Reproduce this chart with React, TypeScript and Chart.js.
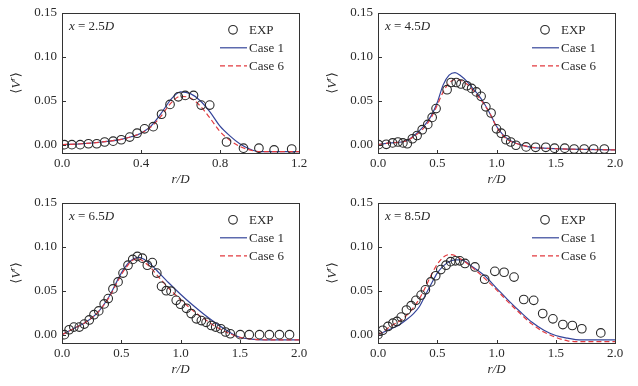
import React, { useEffect, useRef } from "react";
import { Chart, registerables } from "chart.js";

Chart.register(...registerables);

const FONT = '"Liberation Serif", "DejaVu Serif", serif';
const BLUE = "#34449a";
const RED = "#e23a3f";
const INK = "#2a2a2a";

// ---- x = 2.5D ----
const r25Exp = [0.012, 0.05, 0.092, 0.134, 0.176, 0.216, 0.259, 0.3, 0.343, 0.38, 0.418, 0.462, 0.504, 0.547, 0.589, 0.624, 0.666, 0.705, 0.748, 0.833, 0.919, 0.997, 1.074, 1.163];
const v25Exp = [0, 0, 0, 0.001, 0.001, 0.003, 0.004, 0.0056, 0.0086, 0.013, 0.018, 0.0205, 0.0346, 0.0458, 0.0544, 0.056, 0.056, 0.045, 0.045, 0.003, -0.004, -0.004, -0.006, -0.005];
const r25Line = [0, 0.1, 0.2, 0.3, 0.35, 0.4, 0.45, 0.5, 0.55, 0.6, 0.65, 0.7, 0.75, 0.8, 0.85, 0.9, 0.95, 1.0, 1.1, 1.2];
const v25Case1 = [0, 0.001, 0.003, 0.006, 0.009, 0.013, 0.021, 0.035, 0.051, 0.06, 0.058, 0.05, 0.037, 0.021, 0.01, 0.001, -0.005, -0.008, -0.008, -0.008];
const v25Case6 = [0, 0.001, 0.003, 0.006, 0.009, 0.013, 0.02, 0.032, 0.047, 0.055, 0.053, 0.044, 0.03, 0.015, 0.005, -0.002, -0.006, -0.008, -0.008, -0.008];

// ---- x = 4.5D ----
const r45Exp = [0.005, 0.07, 0.123, 0.168, 0.21, 0.247, 0.29, 0.33, 0.373, 0.42, 0.457, 0.49, 0.583, 0.617, 0.66, 0.7, 0.75, 0.79, 0.83, 0.87, 0.91, 0.954, 1.0, 1.04, 1.08, 1.12, 1.164, 1.25, 1.33, 1.416, 1.49, 1.576, 1.655, 1.74, 1.82, 1.91];
const v45Exp = [0, 0.0004, 0.002, 0.003, 0.002, 0.001, 0.0067, 0.0104, 0.017, 0.023, 0.031, 0.041, 0.0625, 0.0707, 0.0707, 0.069, 0.067, 0.064, 0.06, 0.055, 0.043, 0.036, 0.018, 0.013, 0.0056, 0.003, -0.0007, -0.0026, -0.003, -0.003, -0.004, -0.004, -0.005, -0.005, -0.005, -0.005];
const r45Line = [0, 0.1, 0.2, 0.25, 0.3, 0.35, 0.4, 0.45, 0.5, 0.55, 0.6, 0.65, 0.7, 0.75, 0.8, 0.85, 0.9, 0.95, 1.0, 1.05, 1.1, 1.2, 1.3, 1.4, 1.6, 2.0];
const v45Case1 = [0, 0.002, 0.003, 0.005, 0.01, 0.016, 0.023, 0.033, 0.048, 0.068, 0.079, 0.082, 0.078, 0.072, 0.064, 0.056, 0.046, 0.034, 0.021, 0.012, 0.006, 0, -0.003, -0.004, -0.005, -0.006];
const v45Case6 = [0, 0.002, 0.003, 0.005, 0.009, 0.014, 0.021, 0.031, 0.045, 0.06, 0.07, 0.074, 0.073, 0.069, 0.062, 0.054, 0.045, 0.034, 0.02, 0.011, 0.005, 0, -0.003, -0.004, -0.005, -0.006];

// ---- x = 6.5D ----
const r65Exp = [0.02, 0.06, 0.1, 0.146, 0.188, 0.23, 0.27, 0.31, 0.356, 0.39, 0.43, 0.473, 0.515, 0.557, 0.597, 0.636, 0.678, 0.72, 0.762, 0.8, 0.84, 0.88, 0.92, 0.964, 1.0, 1.05, 1.09, 1.134, 1.176, 1.216, 1.26, 1.297, 1.34, 1.38, 1.42, 1.504, 1.58, 1.667, 1.75, 1.835, 1.92];
const v65Exp = [0, 0.0056, 0.0086, 0.0086, 0.012, 0.0167, 0.0227, 0.027, 0.035, 0.041, 0.052, 0.06, 0.07, 0.079, 0.0856, 0.089, 0.087, 0.079, 0.082, 0.07, 0.055, 0.05, 0.0495, 0.039, 0.0346, 0.03, 0.024, 0.018, 0.016, 0.014, 0.0104, 0.0086, 0.0067, 0.003, 0.001, 0, 0, 0, 0, 0, 0];
const r65Line = [0, 0.1, 0.2, 0.3, 0.4, 0.5, 0.55, 0.6, 0.65, 0.7, 0.75, 0.8, 0.9, 1.0, 1.1, 1.2, 1.3, 1.4, 1.5, 1.6, 1.8, 2.0];
const v65Case1 = [0, 0.007, 0.014, 0.025, 0.044, 0.07, 0.08, 0.086, 0.088, 0.085, 0.08, 0.073, 0.059, 0.046, 0.034, 0.023, 0.013, 0.004, -0.003, -0.005, -0.006, -0.006];
const v65Case6 = [0, 0.007, 0.014, 0.025, 0.043, 0.068, 0.078, 0.085, 0.086, 0.082, 0.076, 0.068, 0.053, 0.04, 0.028, 0.018, 0.009, 0.002, -0.003, -0.005, -0.006, -0.006];

// ---- x = 8.5D ----
const r85Exp = [0, 0.04, 0.084, 0.126, 0.16, 0.196, 0.24, 0.28, 0.32, 0.364, 0.4, 0.445, 0.487, 0.53, 0.574, 0.613, 0.653, 0.69, 0.734, 0.818, 0.9, 0.986, 1.064, 1.148, 1.23, 1.314, 1.39, 1.476, 1.56, 1.64, 1.72, 1.88];
const v85Exp = [0, 0.005, 0.0093, 0.013, 0.015, 0.02, 0.028, 0.033, 0.039, 0.045, 0.051, 0.06, 0.067, 0.074, 0.079, 0.083, 0.084, 0.084, 0.081, 0.077, 0.063, 0.072, 0.071, 0.0655, 0.04, 0.039, 0.024, 0.018, 0.0115, 0.0104, 0.0067, 0.002];
const r85Line = [0, 0.05, 0.1, 0.15, 0.2, 0.25, 0.3, 0.35, 0.4, 0.45, 0.5, 0.55, 0.6, 0.65, 0.7, 0.8, 0.9, 1.0, 1.1, 1.2, 1.3, 1.4, 1.5, 1.6, 1.7, 2.0];
const v85Case1 = [0, 0.003, 0.006, 0.009, 0.013, 0.018, 0.024, 0.032, 0.045, 0.058, 0.07, 0.078, 0.083, 0.085, 0.085, 0.077, 0.067, 0.053, 0.039, 0.026, 0.014, 0.005, -0.001, -0.004, -0.006, -0.006];
const v85Case6 = [0, 0.004, 0.009, 0.013, 0.017, 0.023, 0.031, 0.041, 0.054, 0.068, 0.08, 0.088, 0.091, 0.09, 0.086, 0.076, 0.064, 0.051, 0.037, 0.024, 0.012, 0.003, -0.003, -0.007, -0.008, -0.008];

const yTickValues = [0, 0.05, 0.1, 0.15];
const xTicksShort = [0, 0.4, 0.8, 1.2];
const xTicksLong = [0, 0.5, 1.0, 1.5, 2.0];
const panelLabels = ["2.5", "4.5", "6.5", "8.5"];
const legendLabels = ["EXP", "Case 1", "Case 6"];

type PanelCfg = {
  left: number; top: number; w: number; h: number;
  yW: number; padTop: number; padRight: number; xH: number;
  xMax: number; xTicks: number[];
  rExp: number[]; vExp: number[]; rLine: number[]; c1: number[]; c6: number[];
  label: string; legDx: number;
};

const panels: PanelCfg[] = [
  { left: 0, top: 0, w: 318, h: 190, yW: 62, padTop: 11, padRight: 19, xH: 37, xMax: 1.2, xTicks: xTicksShort, rExp: r25Exp, vExp: v25Exp, rLine: r25Line, c1: v25Case1, c6: v25Case6, label: panelLabels[0], legDx: 0 },
  { left: 318, top: 0, w: 320, h: 190, yW: 60, padTop: 11, padRight: 23, xH: 37, xMax: 2, xTicks: xTicksLong, rExp: r45Exp, vExp: v45Exp, rLine: r45Line, c1: v45Case1, c6: v45Case6, label: panelLabels[1], legDx: -4 },
  { left: 0, top: 190, w: 318, h: 196, yW: 62, padTop: 11, padRight: 19, xH: 43, xMax: 2, xTicks: xTicksLong, rExp: r65Exp, vExp: v65Exp, rLine: r65Line, c1: v65Case1, c6: v65Case6, label: panelLabels[2], legDx: 0 },
  { left: 318, top: 190, w: 320, h: 196, yW: 60, padTop: 11, padRight: 23, xH: 43, xMax: 2, xTicks: xTicksLong, rExp: r85Exp, vExp: v85Exp, rLine: r85Line, c1: v85Case1, c6: v85Case6, label: panelLabels[3], legDx: -4 },
];

const zip = (xs: number[], ys: number[]) => xs.map((x, i) => ({ x, y: ys[i] }));

function Panel({ cfg }: { cfg: PanelCfg }) {
  const ref = useRef<HTMLCanvasElement>(null);
  useEffect(() => {
    const deco = {
      id: "deco",
      afterDraw(chart: any) {
        const { ctx, chartArea } = chart;
        const { left, right, top, bottom } = chartArea;
        const xs = chart.scales.x;
        const ys = chart.scales.y;
        ctx.save();
        // frame
        ctx.strokeStyle = "#333";
        ctx.lineWidth = 1;
        ctx.strokeRect(Math.round(left) + 0.5, Math.round(top) + 0.5, Math.round(right - left), Math.round(bottom - top));
        // inner ticks
        ctx.beginPath();
        yTickValues.forEach((v) => {
          const py = Math.round(ys.getPixelForValue(v)) + 0.5;
          ctx.moveTo(left, py);
          ctx.lineTo(left + 4, py);
        });
        cfg.xTicks.forEach((v) => {
          const px = Math.round(xs.getPixelForValue(v)) + 0.5;
          ctx.moveTo(px, bottom);
          ctx.lineTo(px, bottom - 3);
        });
        ctx.stroke();

        ctx.fillStyle = INK;
        ctx.textBaseline = "middle";
        // annotation x = ...D
        let ax = left + 7;
        const ay = top + 14;
        ctx.font = `italic 13px ${FONT}`;
        ctx.textAlign = "left";
        ctx.fillText("x", ax, ay);
        ax += ctx.measureText("x").width;
        ctx.font = `13px ${FONT}`;
        const mid = " = " + cfg.label;
        ctx.fillText(mid, ax, ay);
        ax += ctx.measureText(mid).width;
        ctx.font = `italic 13px ${FONT}`;
        ctx.fillText("D", ax, ay);

        // legend
        const lx = right + cfg.legDx;
        const rows = [top + 17, top + 35, top + 53];
        ctx.font = `13px ${FONT}`;
        ctx.strokeStyle = INK;
        ctx.lineWidth = 1.1;
        ctx.beginPath();
        ctx.arc(lx - 66, rows[0], 4.3, 0, Math.PI * 2);
        ctx.stroke();
        ctx.fillText(legendLabels[0], lx - 50, rows[0] + 1);
        ctx.strokeStyle = BLUE;
        ctx.lineWidth = 1.2;
        ctx.beginPath();
        ctx.moveTo(lx - 79, rows[1]);
        ctx.lineTo(lx - 52, rows[1]);
        ctx.stroke();
        ctx.fillText(legendLabels[1], lx - 50, rows[1] + 1);
        ctx.strokeStyle = RED;
        ctx.setLineDash([5, 3]);
        ctx.beginPath();
        ctx.moveTo(lx - 79, rows[2]);
        ctx.lineTo(lx - 52, rows[2]);
        ctx.stroke();
        ctx.setLineDash([]);
        ctx.fillText(legendLabels[2], lx - 50, rows[2] + 1);

        // x title r/D
        ctx.font = `italic 13px ${FONT}`;
        ctx.textAlign = "center";
        ctx.fillText("r/D", (left + right) / 2, bottom + 27);

        // y title ⟨V^r⟩
        ctx.translate(left - 45, (top + bottom) / 2);
        ctx.rotate(-Math.PI / 2);
        ctx.textAlign = "left";
        ctx.font = `13px ${FONT}`;
        const p1 = "\u27E8";
        const w1 = ctx.measureText(p1).width;
        ctx.font = `italic 13px ${FONT}`;
        const wV = ctx.measureText("V").width;
        ctx.font = `italic 9px ${FONT}`;
        const wr = ctx.measureText("r").width;
        ctx.font = `13px ${FONT}`;
        const w3 = ctx.measureText("\u27E9").width;
        let tx = -(w1 + wV + wr + w3) / 2;
        ctx.fillText(p1, tx, 0);
        tx += w1;
        ctx.font = `italic 13px ${FONT}`;
        ctx.fillText("V", tx, 0);
        tx += wV;
        ctx.font = `italic 9px ${FONT}`;
        ctx.fillText("r", tx, -4);
        tx += wr;
        ctx.font = `13px ${FONT}`;
        ctx.fillText("\u27E9", tx, 0);
        ctx.restore();
      },
    };

    const chart = new Chart(ref.current as HTMLCanvasElement, {
      type: "scatter",
      data: {
        datasets: [
          {
            label: legendLabels[0],
            data: zip(cfg.rExp, cfg.vExp),
            showLine: false,
            pointStyle: "circle",
            pointRadius: 4.3,
            pointBorderWidth: 1.1,
            pointBorderColor: INK,
            pointBackgroundColor: "rgba(0,0,0,0)",
            order: 0,
          },
          {
            label: legendLabels[1],
            data: zip(cfg.rLine, cfg.c1),
            showLine: true,
            borderColor: BLUE,
            borderWidth: 1.2,
            pointRadius: 0,
            cubicInterpolationMode: "monotone",
            order: 2,
          },
          {
            label: legendLabels[2],
            data: zip(cfg.rLine, cfg.c6),
            showLine: true,
            borderColor: RED,
            borderWidth: 1.2,
            borderDash: [5, 3],
            pointRadius: 0,
            cubicInterpolationMode: "monotone",
            order: 1,
          },
        ] as any,
      },
      options: {
        animation: false,
        responsive: false,
        devicePixelRatio: 1,
        layout: { padding: { left: 0, top: cfg.padTop, right: cfg.padRight, bottom: 0 } },
        plugins: { legend: { display: false }, tooltip: { enabled: false } },
        scales: {
          x: {
            type: "linear",
            min: 0,
            max: cfg.xMax,
            grid: { display: false, drawTicks: false },
            border: { display: false },
            afterBuildTicks: (s: any) => { s.ticks = cfg.xTicks.map((v) => ({ value: v })); },
            afterFit: (s: any) => { s.height = cfg.xH; },
            ticks: {
              padding: 3,
              color: INK,
              font: { family: FONT, size: 13 },
              maxRotation: 0,
              callback: (v: any) => Number(v).toFixed(1),
            },
          },
          y: {
            type: "linear",
            min: -0.0095,
            max: 0.15,
            grid: { display: false, drawTicks: false },
            border: { display: false },
            afterBuildTicks: (s: any) => { s.ticks = yTickValues.map((v) => ({ value: v })); },
            afterFit: (s: any) => { s.width = cfg.yW; },
            ticks: {
              padding: 5,
              color: INK,
              font: { family: FONT, size: 13 },
              callback: (v: any) => Number(v).toFixed(2),
            },
          },
        },
      } as any,
      plugins: [deco],
    });
    return () => chart.destroy();
  }, []);
  return (
    <canvas
      ref={ref}
      width={cfg.w}
      height={cfg.h}
      style={{ position: "absolute", left: cfg.left, top: cfg.top, width: cfg.w, height: cfg.h }}
    />
  );
}

export default function App() {
  return (
    <div style={{ position: "fixed", left: 0, top: 0, width: 638, height: 386, background: "#fff" }}>
      {panels.map((p, i) => (
        <Panel key={i} cfg={p} />
      ))}
    </div>
  );
}
